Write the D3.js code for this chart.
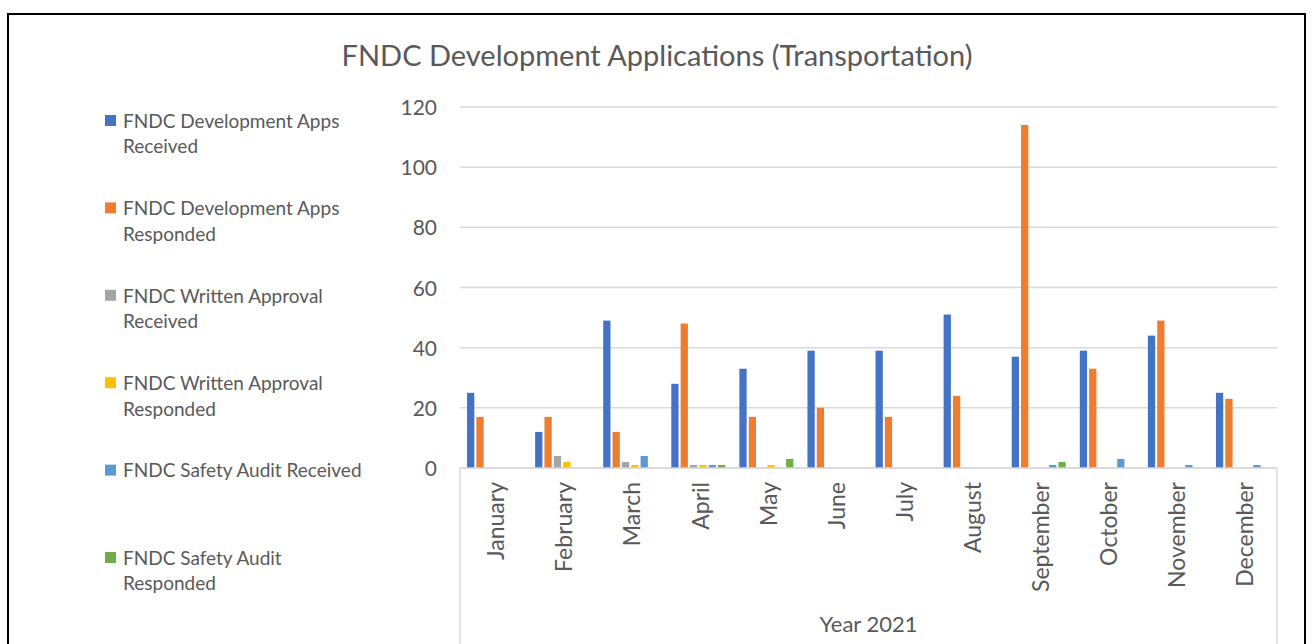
<!DOCTYPE html>
<html>
<head>
<meta charset="utf-8">
<script src="https://cdn.jsdelivr.net/npm/d3@7"></script>
<style>
  html, body { margin: 0; padding: 0; background: #fff; }
  svg { display: block; }
  text { font-family: Lato, "Open Sans", sans-serif; fill: #595959; }
</style>
</head>
<body>
<svg id="chart" width="1312" height="644"></svg>
<script>
const months = ["January","February","March","April","May","June","July","August","September","October","November","December"];
const seriesNames = [
  "FNDC Development Apps Received",
  "FNDC Development Apps Responded",
  "FNDC Written Approval Received",
  "FNDC Written Approval Responded",
  "FNDC Safety Audit Received",
  "FNDC Safety Audit Responded"
];
const legendLines = [
  ["FNDC Development Apps", "Received"],
  ["FNDC Development Apps", "Responded"],
  ["FNDC Written Approval", "Received"],
  ["FNDC Written Approval", "Responded"],
  ["FNDC Safety Audit Received"],
  ["FNDC Safety Audit", "Responded"]
];
const appsReceived      = [25, 12, 49, 28, 33, 39, 39, 51, 37, 39, 44, 25];
const appsResponded     = [17, 17, 12, 48, 17, 20, 17, 24, 114, 33, 49, 23];
const writtenReceived   = [0, 4, 2, 1, 0, 0, 0, 0, 0, 0, 0, 0];
const writtenResponded  = [0, 2, 1, 1, 1, 0, 0, 0, 0, 0, 0, 0];
const auditReceived     = [0, 0, 4, 1, 0, 0, 0, 0, 1, 3, 1, 1];
const auditResponded    = [0, 0, 0, 1, 3, 0, 0, 0, 2, 0, 0, 0];
const yTicks = [0, 20, 40, 60, 80, 100, 120];
const groupLabel = "Year 2021";
const title = "FNDC Development Applications (Transportation)";
const colors = ["#4472C4", "#ED7D31", "#A5A5A5", "#FFC000", "#5B9BD5", "#70AD47"];

const seriesValues = [appsReceived, appsResponded, writtenReceived, writtenResponded, auditReceived, auditResponded];

const svg = d3.select("#chart");

// outer border
svg.append("rect").attr("x", 8).attr("y", 14).attr("width", 1297).attr("height", 700)
  .attr("fill", "none").attr("stroke", "#000").attr("stroke-width", 2);

// title
svg.append("text").attr("x", 657).attr("y", 66).attr("text-anchor", "middle")
  .style("font-size", "29px").text(title);

const plotL = 460, plotR = 1277, plotT = 107, plotB = 468;
const x0 = d3.scaleBand().domain(months).range([plotL, plotR]).paddingInner(0).paddingOuter(0);
const x1 = d3.scaleBand().domain(seriesNames).range([0, 54]).paddingInner(2/9).paddingOuter(0);
const y = d3.scaleLinear().domain([0, 120]).range([plotB, plotT]);

// gridlines
svg.append("g").selectAll("line").data(yTicks).join("line")
  .attr("x1", plotL).attr("x2", plotR)
  .attr("y1", d => y(d)).attr("y2", d => y(d))
  .attr("stroke", "#D9D9D9").attr("stroke-width", 1.5);

// y labels
const yAxis = d3.axisLeft(y).tickValues(yTicks).tickSize(0).tickPadding(0);
const gy = svg.append("g").attr("transform", `translate(437,0)`).call(yAxis);
gy.select(".domain").remove();
gy.selectAll("text").style("font-size", "21px").attr("fill", "#595959")
  .style("font-family", "Lato, 'Open Sans', sans-serif").attr("dy", "0.36em");

// bars
const groupOffset = (x0.bandwidth() - 54) / 2;
const groups = svg.append("g").selectAll("g").data(months).join("g")
  .attr("transform", d => `translate(${x0(d) + groupOffset},0)`);
groups.selectAll("rect")
  .data((m, i) => seriesNames.map((s, k) => ({ s, k, v: seriesValues[k][i] })))
  .join("rect")
  .filter(d => d.v > 0)
  .attr("x", d => x1(d.s))
  .attr("width", x1.bandwidth())
  .attr("y", d => y(d.v))
  .attr("height", d => y(0) - y(d.v))
  .attr("fill", d => colors[d.k]);

// category axis box
const axisG = svg.append("g");
axisG.append("line").attr("x1", plotL).attr("x2", plotR).attr("y1", plotB).attr("y2", plotB)
  .attr("stroke", "#D9D9D9").attr("stroke-width", 1.5);
axisG.append("line").attr("x1", plotL).attr("x2", plotL).attr("y1", plotB).attr("y2", 660)
  .attr("stroke", "#D9D9D9").attr("stroke-width", 1.5);
axisG.append("line").attr("x1", plotR).attr("x2", plotR).attr("y1", plotB).attr("y2", 660)
  .attr("stroke", "#D9D9D9").attr("stroke-width", 1.5);

// month labels
axisG.selectAll("text.month").data(months).join("text")
  .attr("class", "month")
  .attr("transform", d => `translate(${x0(d) + x0.bandwidth() / 2 + 2},482) rotate(-90)`)
  .attr("text-anchor", "end").attr("dy", "0.36em")
  .style("font-size", "23px").text(d => d);

axisG.append("text").attr("x", (plotL + plotR) / 2).attr("y", 632)
  .attr("text-anchor", "middle").style("font-size", "22px").text(groupLabel);

// legend
const leg = svg.append("g").selectAll("g").data(seriesNames).join("g")
  .attr("transform", (d, i) => `translate(105,${121 + i * 87.4})`);
leg.append("rect").attr("x", 0).attr("y", -6).attr("width", 11).attr("height", 11)
  .attr("fill", (d, i) => colors[i]);
leg.each(function(d, i) {
  const t = d3.select(this).append("text").attr("x", 18).attr("y", 0)
    .style("font-size", "19px");
  legendLines[i].forEach((ln, j) => {
    t.append("tspan").attr("x", 18).attr("y", j * 25.5).attr("dy", "0.36em").text(ln);
  });
});
</script>
</body>
</html>
